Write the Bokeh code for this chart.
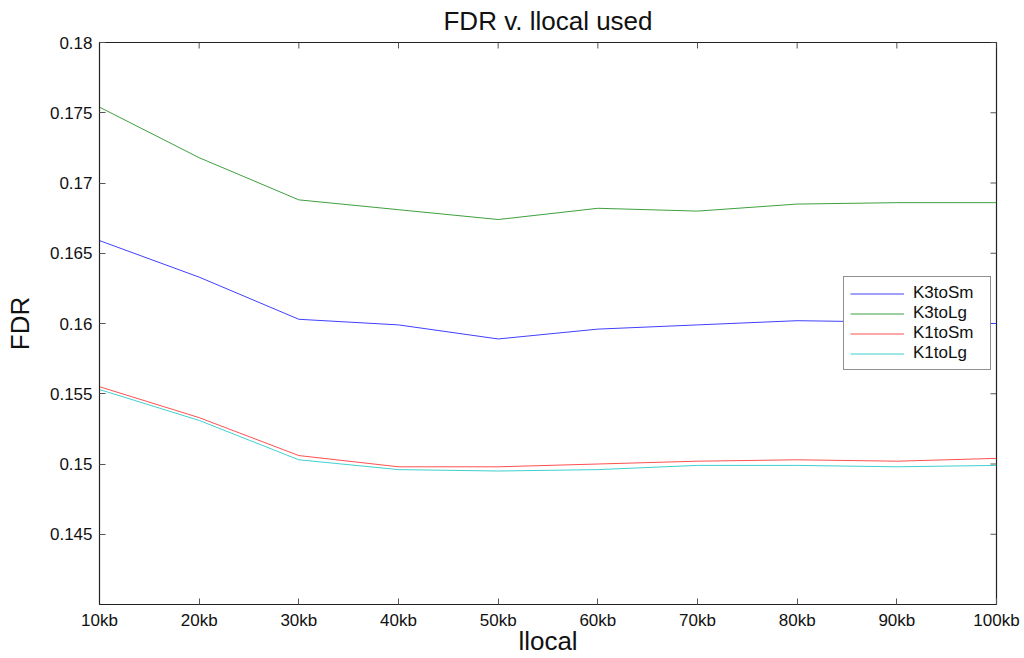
import math
from bokeh.plotting import figure
from bokeh.models import FixedTicker, Range1d, Legend, LegendItem
from bokeh.embed import file_html
from bokeh.resources import INLINE

x_vals = [10, 20, 30, 40, 50, 60, 70, 80, 90, 100]
x_labels = ["10kb", "20kb", "30kb", "40kb", "50kb", "60kb", "70kb", "80kb", "90kb", "100kb"]
y_ticks = [0.145, 0.15, 0.155, 0.16, 0.165, 0.17, 0.175, 0.18]
y_labels = ["0.145", "0.15", "0.155", "0.16", "0.165", "0.17", "0.175", "0.18"]

k3_to_sm = [0.1659, 0.1633, 0.1603, 0.1599, 0.1589, 0.1596, 0.1599, 0.1602, 0.1601, 0.1600]
k3_to_lg = [0.1754, 0.1718, 0.1688, 0.1681, 0.1674, 0.1682, 0.1680, 0.1685, 0.1686, 0.1686]
k1_to_sm = [0.1555, 0.1533, 0.1506, 0.1498, 0.1498, 0.1500, 0.1502, 0.1503, 0.1502, 0.1504]
k1_to_lg = [0.1553, 0.1531, 0.1503, 0.1496, 0.1495, 0.1496, 0.1499, 0.1499, 0.1498, 0.1499]

series_names = ["K3toSm", "K3toLg", "K1toSm", "K1toLg"]
series_vals = [k3_to_sm, k3_to_lg, k1_to_sm, k1_to_lg]
series_colors = ["#4040ff", "#3f9f3f", "#ff5050", "#40d0d0"]

FONT = "Liberation Sans"
X0, X1 = 10, 100
Y0, Y1 = 0.14, 0.18

p = figure(width=1024, height=658, output_backend="svg", toolbar_location=None,
           x_range=Range1d(X0, X1), y_range=Range1d(Y0, Y1),
           min_border_left=99, min_border_right=28, min_border_top=42, min_border_bottom=54,
           x_axis_label="llocal", y_axis_label="FDR")

p.title.text = "FDR v. llocal used"
p.title.align = "center"
p.title.vertical_align = "top"
p.title.text_font = FONT
p.title.text_font_size = "26px"
p.title.text_font_style = "normal"
p.title.text_color = "#111111"
p.title.standoff = 10
p.title.offset = 0

p.xgrid.visible = False
p.ygrid.visible = False
p.outline_line_color = "#222222"
p.outline_line_width = 1.2
p.background_fill_color = "white"
p.border_fill_color = "white"

xa = p.xaxis[0]
xa.ticker = FixedTicker(ticks=x_vals)
xa.major_label_overrides = {v: l for v, l in zip(x_vals, x_labels)}
ya = p.yaxis[0]
ya.ticker = FixedTicker(ticks=y_ticks)
ya.major_label_overrides = {v: l for v, l in zip(y_ticks, y_labels)}

for ax in (xa, ya):
    ax.major_tick_in = 6
    ax.major_tick_out = 0
    ax.minor_tick_line_color = None
    ax.axis_line_color = "#222222"
    ax.major_tick_line_color = "#555555"
    ax.major_label_text_font = FONT
    ax.major_label_text_font_size = "17px"
    ax.major_label_text_color = "#111111"
    ax.axis_label_text_font = FONT
    ax.axis_label_text_font_size = "26px"
    ax.axis_label_text_font_style = "normal"
    ax.axis_label_text_color = "#111111"
xa.major_label_standoff = 6
xa.axis_label_standoff = -7
ya.major_label_standoff = 7
ya.axis_label_standoff = 12

# inside ticks on the top and right edges of the box
p.ray(x=x_vals, y=[Y1] * len(x_vals), length=6, length_units="screen",
      angle=-math.pi / 2, line_color="#555555", line_width=1)
p.ray(x=[X1] * len(y_ticks), y=y_ticks, length=6, length_units="screen",
      angle=math.pi, line_color="#555555", line_width=1)

items = []
for name, vals, col in zip(series_names, series_vals, series_colors):
    r = p.line(x_vals, vals, line_color=col, line_width=1)
    items.append(LegendItem(label=name, renderers=[r]))

legend = Legend(items=items, location=(744, 234), padding=6, margin=0, spacing=0,
                glyph_width=54, glyph_height=19, label_height=19, label_width=71,
                label_standoff=9,
                label_text_font=FONT, label_text_font_size="17px", label_text_color="#111111",
                border_line_color="#222222", border_line_width=1.2, background_fill_alpha=1)
p.add_layout(legend, "center")

open("out.html", "w").write(file_html(p, INLINE))
